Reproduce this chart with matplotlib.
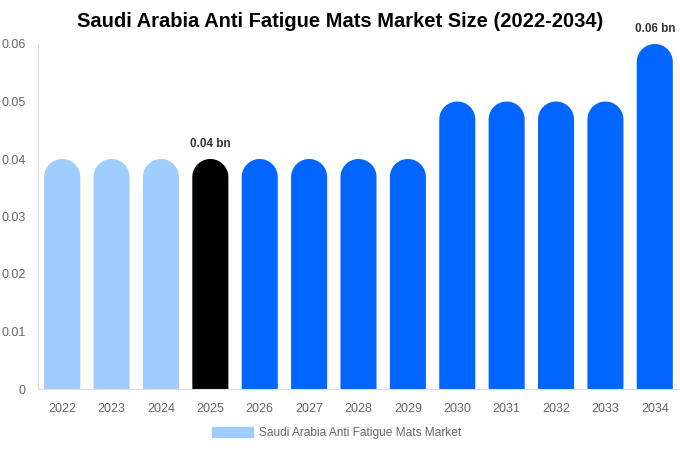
import numpy as np
from matplotlib import pyplot as plt
from matplotlib.patches import Rectangle, Polygon

plt.rcParams["font.family"] = ["Liberation Sans", "DejaVu Sans"]

years = ["2022", "2023", "2024", "2025", "2026", "2027", "2028",
         "2029", "2030", "2031", "2032", "2033", "2034"]
values = [0.04, 0.04, 0.04, 0.04, 0.04, 0.04, 0.04,
          0.04, 0.05, 0.05, 0.05, 0.05, 0.06]
colors = ["#a0cdfd"] * 3 + ["#000000"] + ["#0066ff"] * 9
labels = {"2025": "0.04 bn", "2034": "0.06 bn"}

fig = plt.figure(figsize=(6.8, 4.5), dpi=100)
ax = fig.add_axes([38 / 680, 61 / 450, 641 / 680, 345 / 450])
ax.set_xlim(-0.49, len(years) - 0.51)
ax.set_ylim(0, 0.06)

bar_w = 0.73
# radius of rounded top, in y data units, so it looks circular on screen
px_per_x = ax.transData.transform((1, 0))[0] - ax.transData.transform((0, 0))[0]
px_per_y = ax.transData.transform((0, 1))[1] - ax.transData.transform((0, 0))[1]
r_y = (bar_w * px_per_x / 2) / px_per_y
t = np.linspace(np.pi, 0, 40)

for i, (yr, v, c) in enumerate(zip(years, values, colors)):
    top = v - r_y
    pts = [(i - bar_w / 2, 0)]
    pts += list(zip(i + bar_w / 2 * np.cos(t), top + r_y * np.sin(t)))
    pts += [(i + bar_w / 2, 0)]
    ax.add_patch(Polygon(pts, closed=True, facecolor=c, edgecolor="none"))
    if yr in labels:
        ax.text(i, v + 0.0016, labels[yr], ha="center", va="bottom",
                fontsize=8.5, fontweight="bold", color="#333333")

ax.set_xticks(range(len(years)))
ax.set_xticklabels(years)
ax.set_yticks([0, 0.01, 0.02, 0.03, 0.04, 0.05, 0.06])
ax.set_yticklabels(["0", "0.01", "0.02", "0.03", "0.04", "0.05", "0.06"])
ax.tick_params(axis="both", length=0, labelsize=9, colors="#666666")
ax.tick_params(axis="x", pad=10)
ax.tick_params(axis="y", pad=9)
for s in ["top", "right"]:
    ax.spines[s].set_visible(False)
for s in ["left", "bottom"]:
    ax.spines[s].set_color("#dddddd")
    ax.spines[s].set_linewidth(0.8)

fig.text(0.5, 0.953, "Saudi Arabia Anti Fatigue Mats Market Size (2022-2034)",
         ha="center", va="center", fontsize=14.5, fontweight="bold")

handle = Rectangle((0, 0), 1, 1, color="#a0cdfd")
fig.legend([handle], ["Saudi Arabia Anti Fatigue Mats Market"],
           loc="center", bbox_to_anchor=(0.495, 0.037), frameon=False,
           fontsize=8.6, labelcolor="#666666", handlelength=3.4,
           handleheight=0.9, handletextpad=0.5)

plt.savefig("out.png", dpi=100)
